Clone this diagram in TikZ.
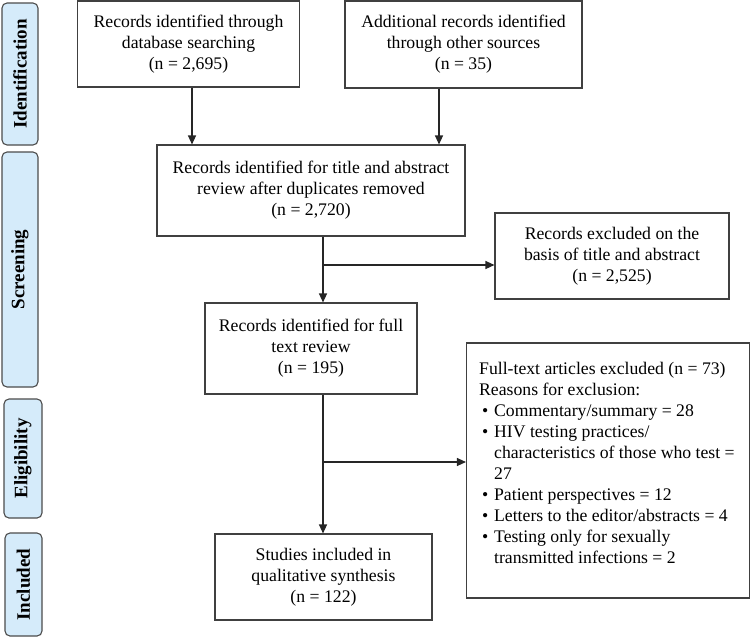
\documentclass[tikz,border=0pt]{standalone}
\usepackage{fontspec}
\setmainfont{Liberation Serif}
\usepackage{xcolor}
\usetikzlibrary{arrows.meta,positioning,calc}

\definecolor{phaseblue}{HTML}{D5EBFA}
\newcommand{\itm}{\hspace*{3pt}\makebox[12pt][l]{\textbullet}}
\newcommand{\ind}{\hspace*{15pt}}

\tikzset{
  box/.style={draw=black!75,line width=1.1pt,align=center,inner sep=0pt,
    font=\fontsize{17.7}{21}\selectfont},
  phase/.style={draw=black!70,line width=1.1pt,rounded corners=5pt,fill=phaseblue,
    inner sep=0pt,rotate=90,font=\bfseries\fontsize{19}{21}\selectfont},
  arr/.style={line width=1.2pt,black!85,-{Triangle[length=9pt,width=8pt]}},
}

\begin{document}
\begin{tikzpicture}[x=1pt,y=-1pt]
  \useasboundingbox (0,0) rectangle (751,637);
  % phase labels on the left
  \node[phase,minimum width=142,minimum height=36] (pid) at (20,74) {Identification};
  \node[phase,minimum width=235,minimum height=36] (pscr) at (20,269.5) {Screening};
  \node[phase,minimum width=119,minimum height=38] (pel) at (23,458.5) {Eligibility};
  \node[phase,minimum width=103,minimum height=37] (pinc) at (23.5,584.5) {Included};
  % identification
  \node[box,minimum width=222,minimum height=86] (db) at (188.5,44)
    {Records identified through\\database searching\\(n = 2,695)};
  \node[box,minimum width=237,minimum height=87] (oth) at (463.5,44.5)
    {Additional records identified\\through other sources\\(n = 35)};
  % screening
  \node[box,minimum width=308,minimum height=91] (scr) at (311,190.5)
    {Records identified for title and abstract\\review after duplicates removed\\(n = 2,720)};
  \node[box,minimum width=234,minimum height=86] (excl) at (612,256)
    {Records excluded on the\\basis of title and abstract\\(n = 2,525)};
  % eligibility
  \node[box,minimum width=212,minimum height=91] (full) at (311,348.5)
    {Records identified for full\\text review\\(n = 195)};
  \node[box,minimum width=283,minimum height=255] (fte) at (608,470.5) {};
  \node[anchor=north west,align=left,inner sep=0pt,font=\fontsize{17.7}{21}\selectfont]
    (ftetxt) at ([xshift=13pt,yshift=-20pt]fte.north west)
    {Full-text articles excluded (n = 73)\\
     Reasons for exclusion:\\
     \itm Commentary/summary = 28\\
     \itm HIV testing practices/\\
     \ind characteristics of those who test =\\
     \ind 27\\
     \itm Patient perspectives = 12\\
     \itm Letters to the editor/abstracts = 4\\
     \itm Testing only for sexually\\
     \ind transmitted infections = 2};
  % included
  \node[box,minimum width=217,minimum height=86] (incl) at (323.5,577)
    {Studies included in\\qualitative synthesis\\(n = 122)};
  % connectors
  \coordinate (j1) at (323,265);
  \coordinate (j2) at (323,462);
  \draw[arr] ([xshift=3.5pt]db.south) -- ([xshift=3.5pt]db.south |- scr.north);
  \draw[arr] ([xshift=-24.5pt]oth.south) -- ([xshift=-24.5pt]oth.south |- scr.north);
  \draw[arr] (scr.south -| j1) -- (full.north -| j1);
  \draw[arr] (j1) -- (j1 -| excl.west);
  \draw[arr] (full.south -| j2) -- (incl.north -| j2);
  \draw[arr] (j2) -- (j2 -| fte.west);
\end{tikzpicture}
\end{document}
